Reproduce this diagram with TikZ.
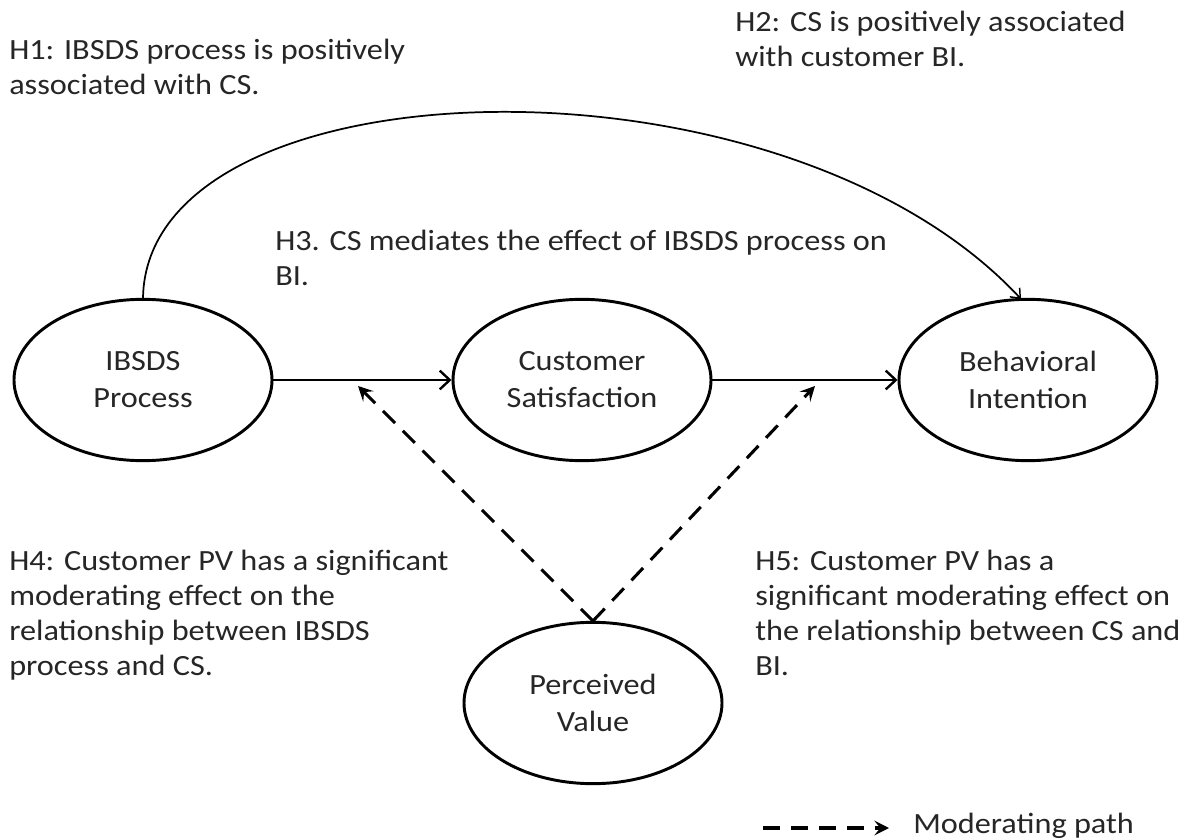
\documentclass[tikz,border=0pt]{standalone}
\usepackage{fontspec}
\setmainfont[FakeStretch=1.1]{Carlito}
\usetikzlibrary{shapes.geometric,arrows.meta}
\begin{document}
\begin{tikzpicture}[x=0.75pt,y=-0.75pt,
  txt/.style={font=\fontsize{22pt}{26.25pt}\selectfont, text=black!85, align=left, anchor=north west, inner sep=0pt},
  construct/.style={ellipse, draw=black, line width=2.2pt, minimum width=193.5pt, minimum height=121pt, inner sep=0pt,
    font=\fontsize{22pt}{27.75pt}\selectfont, text=black!85, align=center},
  mainpath/.style={line width=2.2pt, -{Straight Barb[length=7.5pt,width=14pt,line width=1.8pt]}},
  modpath/.style={line width=2.3pt, dash pattern=on 12.75pt off 8.25pt, -{Stealth[length=11pt,width=11pt,inset=4.5pt]}},
  curvepath/.style={line width=1.3pt, -{Straight Barb[length=6pt,width=10pt,line width=1.1pt]}}
]
\useasboundingbox (0,0) rectangle (1189,838);
\fill[white] (0,0) rectangle (1189,838);

\node[construct] (IB) at (143,380) {IBSDS\\Process};
\node[construct] (CS) at (582,380) {Customer\\Satisfaction};
\node[construct] (BI) at (1028,380) {Behavioral\\Intention};
\node[construct] (PV) at (593,703) {Perceived\\Value};

\coordinate (m1) at (358,386);
\coordinate (m2) at (815,386);
\coordinate (pvtop) at (593,621);
\coordinate (bitop) at (1021,299);

\draw[mainpath] (IB.east) -- (CS.west);
\draw[mainpath] (CS.east) -- (BI.west);
\draw[modpath] (pvtop) -- (m1);
\draw[modpath] (pvtop) -- (m2);
\draw[curvepath] (IB.north) .. controls (147,60) and (780,40) .. (bitop);

\node[txt] (h1) at (9,39) {H1: IBSDS process is positively\\associated with CS.};
\node[txt] (h2) at (735,11) {H2: CS is positively associated\\with customer BI.};
\node[txt] (h3) at (275,230) {H3. CS mediates the effect of IBSDS process on\\BI.};
\node[txt] (h4) at (9,550) {H4: Customer PV has a significant\\moderating effect on the\\relationship between IBSDS\\process and CS.};
\node[txt] (h5) at (755,550) {H5: Customer PV has a\\significant moderating effect on\\the relationship between CS and\\BI.};

\coordinate (la) at (763,828);
\coordinate (lb) at (889,828);
\draw[modpath] (la) -- (lb);
\node[txt, anchor=base west] (leg) at (913,833) {Moderating path};
\end{tikzpicture}
\end{document}
